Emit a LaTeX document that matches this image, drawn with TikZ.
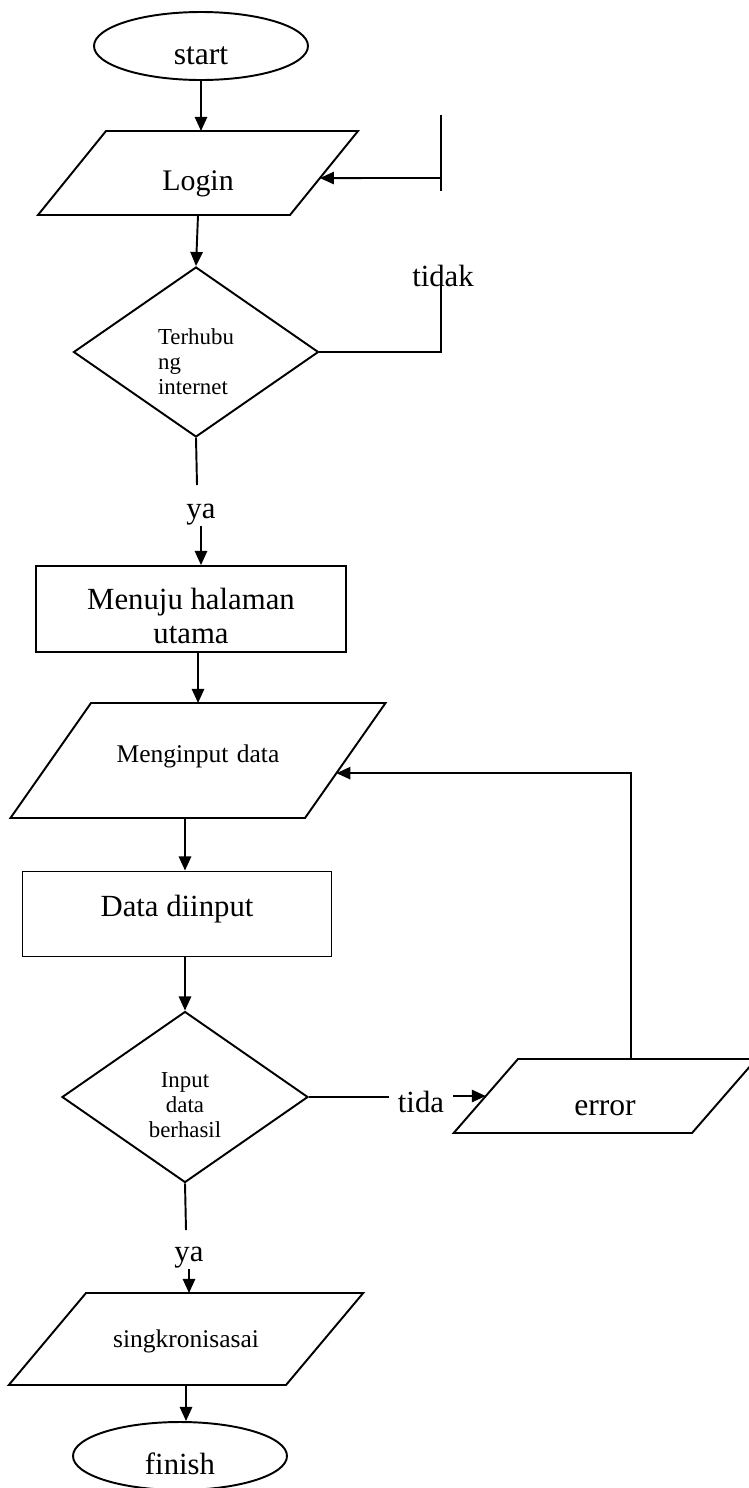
\documentclass[tikz,border=0pt]{standalone}
\usepackage{fontspec}
\setmainfont{Liberation Serif}
\usetikzlibrary{shapes.geometric,arrows.meta,calc}

\tikzset{
  line/.style={line width=1.1pt},
  arrow/.style={line width=1.1pt,-{Triangle[length=8pt,width=7pt]}},
  terminal/.style={draw,line width=1.1pt,ellipse,minimum width=42.8mm,minimum height=13.6mm,inner sep=0pt,font=\fontsize{18}{21}\selectfont},
  process/.style={draw,line width=1.1pt,rectangle,inner sep=0pt,align=center,font=\fontsize{17.5}{19.8}\selectfont},
  io/.style={draw,line width=1.1pt,trapezium,inner sep=0pt,outer sep=0pt,align=center,anchor=top left corner},
  decision/.style={draw,line width=1.1pt,diamond,inner sep=0pt,font=\fontsize{13}{14.2}\selectfont},
  lbl/.style={inner sep=0pt,font=\fontsize{17.5}{21}\selectfont},
  turun/.style={text height=#1,text depth=0pt}
}

\begin{document}
\begin{tikzpicture}[x=0.2mm,y=-0.2mm]
\useasboundingbox (0,0) rectangle (748,1488);

\node[terminal,turun=21.5pt] (start) at (201,46) {start};
\node[io,text width=36.8mm,text height=11.8mm,text depth=5mm,trapezium left angle=51,trapezium right angle=129,font=\fontsize{17}{20}\selectfont] (login) at (106,131) {Login};
\node[decision,minimum width=49mm,minimum height=34mm,align=left,turun=48.8pt] (cek1) at (196,352) {Terhubu\\ng\\internet};
\node[lbl] (tidak1) at (443,276) {tidak};
\node[lbl] (ya1) at (201,515) {ya};
\node[process,minimum width=62mm,minimum height=17.2mm,turun=39.7pt] (menuju) at (191,609) {Menuju halaman\\utama};
\node[io,text width=42.8mm,text height=11.8mm,text depth=11.2mm,trapezium left angle=55,trapezium right angle=125,font=\fontsize{14.5}{17}\selectfont] (input) at (91,703) {Menginput data};
\node[process,minimum width=61.8mm,minimum height=17mm,turun=2.3pt] (datain) at (177,914) {Data diinput};
\node[decision,minimum width=49.2mm,minimum height=34.2mm,align=center,turun=46.5pt] (cek2) at (185,1097) {Input\\data\\berhasil};
\node[lbl,inner xsep=5pt] (tida2) at (421,1102) {tida};
\node[io,text width=34.8mm,text height=11.2mm,text depth=3.6mm,trapezium left angle=49,trapezium right angle=131,font=\fontsize{18}{21}\selectfont] (error) at (518,1059) {error};
\node[lbl] (ya2) at (189,1258) {ya};
\node[io,text width=40mm,text height=10.8mm,text depth=7.6mm,trapezium left angle=50,trapezium right angle=130,font=\fontsize{14.5}{17}\selectfont] (sync) at (86,1293) {singkronisasai};
\node[terminal,font=\fontsize{17.5}{21}\selectfont,turun=21.5pt] (finish) at (180,1456) {finish};

% titik bantu
\coordinate (fbA) at (441,115);
\coordinate (fbB) at (441,191);
\coordinate (fbC) at (441,178);
\coordinate (t1) at (441,285);
\coordinate (ya1top) at (197,485);
\coordinate (ya2top) at (186,1230);
\coordinate (errup) at (631,1059);
\coordinate (loginR) at ($(login.top right corner)!0.56!(login.bottom right corner)$);
\coordinate (inR) at ($(input.top right corner)!0.61!(input.bottom right corner)$);

\draw[arrow] (start.south) -- (start.south |- login.north);
\draw[line] (fbA) -- (fbB);
\draw[arrow] (fbC) -- (loginR);
\draw[arrow] (login.south) -- (cek1.north);
\draw[line] (cek1.east) -| (t1);
\draw[line] (cek1.south) -- (ya1top);
\draw[arrow] (ya1.south) -- (ya1.south |- menuju.north);
\draw[arrow] (input.north |- menuju.south) -- (input.north);
\draw[arrow] (cek2.north |- input.south) -- (cek2.north |- datain.north);
\draw[arrow] (cek2.north |- datain.south) -- (cek2.north);
\draw[line] (cek2.east) -- (cek2.east -| tida2.west);
\draw[arrow] (tida2.east |- error.left side) -- (error.left side);
\draw[arrow] (errup) |- (inR);
\draw[line] (cek2.south) -- (ya2top);
\draw[arrow] (ya2.south) -- (ya2.south |- sync.north);
\draw[arrow] (sync.south) -- (sync.south |- finish.north);

\end{tikzpicture}
\end{document}
